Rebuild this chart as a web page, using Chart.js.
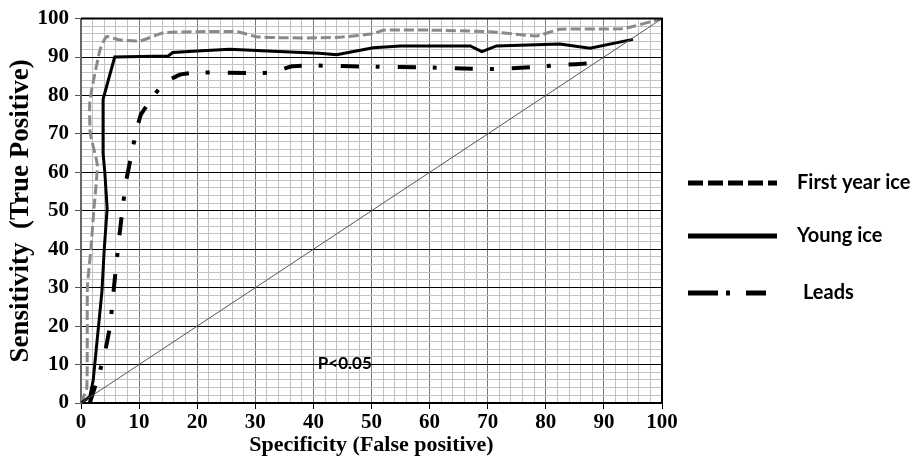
<!DOCTYPE html>
<html>

<head>
    <title>ROC curves</title>
    <script src="https://cdn.jsdelivr.net/npm/chart.js"></script>
    <style>
        body {
            margin: 0;
            background: #fff;
        }

        #wrap {
            width: 919px;
            height: 468px;
            position: relative;
        }
    </style>
</head>

<body>
    <div id="wrap"><canvas id="roc"></canvas></div>

    <script>
        // ROC points per ice class, x = false positive %, y = true positive %
        const firstYearX = [0, 1.0, 1.1, 1.7, 2.2, 2.8, 1.6, 1.5, 1.9, 3.3, 4.4, 6.5, 10.2, 14.2, 20, 26.8, 30.2, 35, 41, 45, 50.3, 52, 60, 70.4, 78.4, 82.4, 93.3, 100];
        const firstYearY = [0, 4, 30, 40, 50, 62, 70, 78, 82, 92, 95.3, 94.5, 94.2, 96.3, 96.6, 96.6, 95.3, 95, 95, 95.2, 96.1, 97, 97, 96.6, 95.5, 97.2, 97.4, 100];

        const youngX = [0, 1.5, 2.1, 3.6, 4.0, 4.5, 4.1, 3.8, 3.8, 5.8, 15, 15.8, 20, 25.6, 33, 41, 44, 50.3, 55, 67, 69, 71.5, 82.4, 87.6, 95];
        const youngY = [0, 1.6, 5.9, 29, 40, 50.6, 60, 65, 79, 90, 90.3, 91.2, 91.6, 92, 91.5, 91, 90.6, 92.4, 92.9, 92.9, 91.4, 92.9, 93.4, 92.3, 94.6];

        const leadsX = [1.5, 3, 4.1, 5, 5.8, 6.5, 7.1, 7.8, 8.6, 9.4, 10.3, 12.3, 14.2, 17, 20, 30, 33, 36.3, 40, 50, 60, 68, 72, 78, 82, 88.4];
        const leadsY = [0, 7, 13, 20, 32, 42, 50, 58, 64, 70, 75, 79.4, 83.2, 85.4, 86, 85.8, 86, 87.6, 87.8, 87.5, 87.3, 86.9, 86.9, 87.4, 87.9, 88.4];

        const chanceX = [0, 100];
        const chanceY = [0, 100];

        const legendLabels = ['First year ice', 'Young ice', 'Leads'];
        const pValueText = 'P<0.05';

        const toPoints = (xs, ys) => xs.map((x, i) => ({ x: x, y: ys[i] }));

        const serif = 'Liberation Serif, Times New Roman, serif';
        const isMajor = (ctx) => ctx.tick && ctx.tick.value % 10 === 0;

        // frame on top and right, plus the p-value note and the line legend
        const extras = {
            id: 'extras',
            afterDraw(chart) {
                const { ctx, chartArea: a, scales } = chart;
                ctx.save();
                ctx.strokeStyle = '#000';
                ctx.lineWidth = 2;
                ctx.beginPath();
                ctx.moveTo(a.left, a.top);
                ctx.lineTo(a.right, a.top);
                ctx.lineTo(a.right, a.bottom);
                ctx.stroke();

                ctx.fillStyle = '#000';
                ctx.font = 'bold 17px Lato, sans-serif';
                ctx.textAlign = 'center';
                ctx.textBaseline = 'middle';
                ctx.fillText(pValueText, scales.x.getPixelForValue(45.4), scales.y.getPixelForValue(10.3));

                const styles = [[15, 5], [], [30, 8, 4, 16]];
                const rows = [183, 236, 293];
                ctx.textAlign = 'left';
                ctx.font = 'bold 20px Lato, sans-serif';
                legendLabels.forEach((label, i) => {
                    ctx.strokeStyle = '#000';
                    ctx.lineWidth = 5;
                    ctx.setLineDash(styles[i]);
                    ctx.beginPath();
                    ctx.moveTo(688, rows[i]);
                    ctx.lineTo(i === 2 ? 766 : 777, rows[i]);
                    ctx.stroke();
                    ctx.setLineDash([]);
                    ctx.fillStyle = '#000';
                    ctx.fillText(label, i === 2 ? 803 : 797, rows[i]);
                });
                ctx.restore();
            }
        };

        new Chart(document.getElementById('roc'), {
            type: 'line',
            data: {
                datasets: [{
                    label: 'Chance',
                    data: toPoints(chanceX, chanceY),
                    borderColor: '#555',
                    borderWidth: 1,
                    pointRadius: 0,
                    tension: 0
                }, {
                    label: legendLabels[2],
                    data: toPoints(leadsX, leadsY),
                    borderColor: '#000',
                    borderWidth: 4,
                    borderDash: [18, 17, 4, 18],
                    pointRadius: 0,
                    tension: 0.1
                }, {
                    label: legendLabels[1],
                    data: toPoints(youngX, youngY),
                    borderColor: '#000',
                    borderWidth: 3,
                    pointRadius: 0,
                    tension: 0
                }, {
                    label: legendLabels[0],
                    data: toPoints(firstYearX, firstYearY),
                    borderColor: '#8a8a8a',
                    borderWidth: 3,
                    borderDash: [10, 4],
                    pointRadius: 0,
                    tension: 0.15
                }]
            },
            options: {
                responsive: true,
                maintainAspectRatio: false,
                animation: false,
                layout: { padding: { top: 15, right: 257, left: 0, bottom: 0 } },
                plugins: {
                    legend: { display: false },
                    tooltip: { enabled: false }
                },
                scales: {
                    x: {
                        type: 'linear',
                        min: 0,
                        max: 100,
                        afterFit: (scale) => { scale.height = 65; },
                        ticks: {
                            stepSize: 2,
                            maxTicksLimit: 200,
                            autoSkip: false,
                            maxRotation: 0,
                            padding: 1,
                            color: '#000',
                            font: { family: serif, size: 21, weight: 'bold' },
                            callback: (v) => v % 10 === 0 ? v : ''
                        },
                        grid: {
                            color: (ctx) => isMajor(ctx) ? '#7a7a7a' : '#c2c2c2',
                            lineWidth: 1,
                            tickLength: 6,
                            tickColor: (ctx) => isMajor(ctx) ? '#000' : 'rgba(0,0,0,0)'
                        },
                        border: { color: '#000', width: 2 },
                        title: {
                            display: true,
                            text: 'Specificity (False positive)',
                            color: '#000',
                            font: { family: serif, size: 22, weight: 'bold' },
                            padding: { top: 0, bottom: 9 }
                        }
                    },
                    y: {
                        min: 0,
                        max: 100,
                        afterFit: (scale) => { scale.width = 81; },
                        ticks: {
                            stepSize: 2,
                            maxTicksLimit: 200,
                            autoSkip: false,
                            padding: 6,
                            color: '#000',
                            font: { family: serif, size: 21, weight: 'bold' },
                            callback: (v) => v % 10 === 0 ? v : ''
                        },
                        grid: {
                            color: (ctx) => isMajor(ctx) ? '#000' : '#c2c2c2',
                            lineWidth: 1,
                            tickLength: 6,
                            tickColor: (ctx) => isMajor(ctx) ? '#555' : 'rgba(0,0,0,0)'
                        },
                        border: { color: '#666', width: 2 },
                        title: {
                            display: true,
                            text: 'Sensitivity  (True Positive)',
                            color: '#000',
                            font: { family: serif, size: 27, weight: 'bold' },
                            padding: { top: 5, bottom: 0 }
                        }
                    }
                }
            },
            plugins: [extras]
        });
    </script>
</body>

</html>
